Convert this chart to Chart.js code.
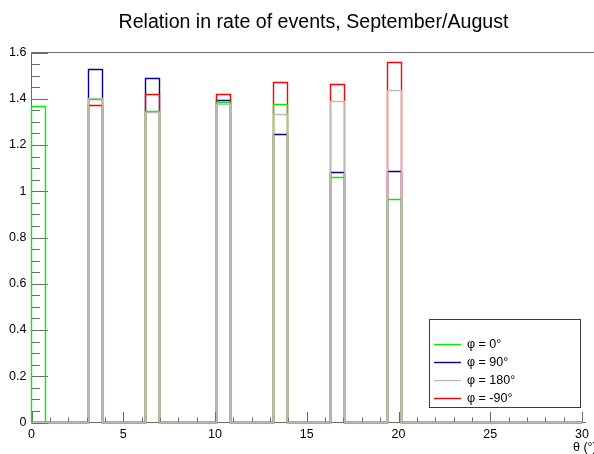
<!DOCTYPE html>
<html>
<head>
<meta charset="utf-8">
<script src="https://cdn.jsdelivr.net/npm/chart.js@4/dist/chart.umd.min.js"></script>
<style>
  html, body { margin: 0; padding: 0; background: #ffffff; }
  #wrap { width: 594px; height: 454px; }
</style>
</head>
<body>
<div id="wrap"><canvas id="c" width="594" height="454"></canvas></div>
<script>
// θ bins (degrees): lower and upper edges of each filled bin
const thetaLow  = [0, 3.10, 6.21, 10.09, 13.19, 16.30, 19.40];
const thetaHigh = [0.78, 3.88, 6.98, 10.86, 13.97, 17.07, 20.18];

// September/August rate ratio per θ bin, one array per φ direction
const ratioPhi0    = [1.367, 1.397, 1.343, 1.384, 1.375, 1.060, 0.965];
const ratioPhi90   = [0,     1.527, 1.488, 1.393, 1.246, 1.082, 1.084];
const ratioPhi180  = [0,     1.401, 1.340, 1.377, 1.333, 1.390, 1.437];
const ratioPhiM90  = [0,     1.371, 1.419, 1.417, 1.470, 1.462, 1.555];

const seriesLabels = ['φ = 0°', 'φ = 90°', 'φ = 180°', 'φ = -90°'];
const xTickStep = 5, yTickStep = 0.2;
const xMin = 0, xMax = 30, yMin = 0, yMax = 1.6;

const titleText = 'Relation in rate of events, September/August';
const xTitleText = 'θ (°)';

const COLORS = ['#00ee00', '#000099', '#c2bab2', '#ff0000'];
const FONT = '"Liberation Sans", Arial, Helvetica, sans-serif';

// Histogram outline: rises at each bin's lower edge, falls back to zero at its upper edge
function outline(values) {
  const pts = [{x: xMin, y: 0}];
  for (let i = 0; i < values.length; i++) {
    pts.push({x: thetaLow[i], y: 0});
    pts.push({x: thetaLow[i], y: values[i]});
    pts.push({x: thetaHigh[i], y: values[i]});
    pts.push({x: thetaHigh[i], y: 0});
  }
  pts.push({x: xMax, y: 0});
  return pts;
}

const allSeries = [ratioPhi0, ratioPhi90, ratioPhi180, ratioPhiM90];
// drawing weight: higher is painted first (underneath)
const drawOrder = [1, 3, 0, 2];

const datasets = allSeries.map((vals, i) => ({
  label: seriesLabels[i],
  data: outline(vals),
  borderColor: COLORS[i],
  backgroundColor: COLORS[i],
  borderWidth: 1.4,
  pointRadius: 0,
  tension: 0,
  fill: false,
  clip: 3,
  order: drawOrder[i]
}));

const AXIS = '#6a6a6a';

// Put outline vertices on pixel centres so overlapping outlines cover each other cleanly
const snapPlugin = {
  id: 'snap',
  afterDatasetsUpdate(chart) {
    chart.data.datasets.forEach((d, i) => {
      const meta = chart.getDatasetMeta(i);
      meta.data.forEach(p => {
        p.x = Math.floor(p.x) + 0.5;
        p.y = Math.floor(p.y) + 0.5;
      });
    });
  }
};

// ROOT-style frame: inward ticks, top frame line
const framePlugin = {
  id: 'frame',
  beforeDatasetsDraw(chart) {
    const {ctx, chartArea: a, scales: {x, y}} = chart;
    ctx.save();
    ctx.strokeStyle = AXIS;
    ctx.lineWidth = 1;
    ctx.beginPath();
    ctx.moveTo(a.left, a.top); ctx.lineTo(chart.width, a.top);
    ctx.moveTo(a.left, a.top); ctx.lineTo(a.left, a.bottom);
    ctx.moveTo(a.left, a.bottom); ctx.lineTo(a.right + 4, a.bottom);
    // x ticks: every 1 unit, longer every 5
    for (let v = xMin; v <= xMax + 1e-9; v += 1) {
      const px = Math.round(x.getPixelForValue(v)) + 0.5;
      const len = (Math.round(v) % xTickStep === 0) ? 10.5 : 5;
      ctx.moveTo(px, a.bottom); ctx.lineTo(px, a.bottom - len);
    }
    // y ticks: every 0.05, longer every 0.2
    for (let k = 0; k <= Math.round(yMax / 0.05); k++) {
      const v = k * 0.05;
      const py = Math.round(y.getPixelForValue(v)) + 0.5;
      const len = (k % 4 === 0) ? 16.5 : 8.5;
      ctx.moveTo(a.left, py); ctx.lineTo(a.left + len, py);
    }
    ctx.stroke();
    ctx.restore();
  },
  afterDraw(chart) {
    const {ctx} = chart;
    ctx.save();
    // title
    ctx.fillStyle = '#000';
    ctx.font = '19.6px ' + FONT;
    ctx.textAlign = 'center';
    ctx.textBaseline = 'alphabetic';
    ctx.fillText(titleText, 313.5, 28);
    // x axis title (runs off the right edge)
    ctx.font = '12.5px ' + FONT;
    ctx.textAlign = 'left';
    ctx.fillText(xTitleText, 573, 451);
    // legend box
    const bx = 429.5, by = 319.5, bw = 151, bh = 88;
    ctx.fillStyle = '#fff';
    ctx.fillRect(bx, by, bw, bh);
    ctx.strokeStyle = '#3a3a3a';
    ctx.lineWidth = 1;
    ctx.strokeRect(bx, by, bw, bh);
    const rowY = [344.5, 362.5, 380.5, 398.5];
    seriesLabels.forEach((lab, i) => {
      ctx.strokeStyle = COLORS[i];
      ctx.lineWidth = 1.4;
      ctx.beginPath();
      ctx.moveTo(434, rowY[i]); ctx.lineTo(461, rowY[i]);
      ctx.stroke();
      ctx.fillStyle = '#000';
      ctx.font = '12.5px ' + FONT;
      ctx.textBaseline = 'middle';
      ctx.fillText(lab, 467, rowY[i]);
    });
    ctx.restore();
  }
};

new Chart(document.getElementById('c'), {
  type: 'line',
  data: { datasets },
  plugins: [snapPlugin, framePlugin],
  options: {
    responsive: false,
    devicePixelRatio: 1,
    animation: false,
    events: [],
    layout: { padding: { top: 52.5, right: 3.4, left: 0, bottom: 0 } },
    plugins: { legend: { display: false }, title: { display: false }, tooltip: { enabled: false } },
    scales: {
      x: {
        type: 'linear', min: xMin, max: xMax,
        grid: { display: false, drawTicks: false },
        border: { display: false },
        ticks: { stepSize: xTickStep, color: '#000', padding: 5, maxRotation: 0,
                 font: { family: FONT, size: 12.5 } },
        afterFit(s) { s.height = 31.5; }
      },
      y: {
        type: 'linear', min: yMin, max: yMax,
        grid: { display: false, drawTicks: false },
        border: { display: false },
        ticks: { stepSize: yTickStep, color: '#000', padding: 5,
                 font: { family: FONT, size: 12.5 },
                 callback: v => String(+Number(v).toFixed(1)) },
        afterFit(s) { s.width = 31.5; }
      }
    }
  }
});
</script>
</body>
</html>
